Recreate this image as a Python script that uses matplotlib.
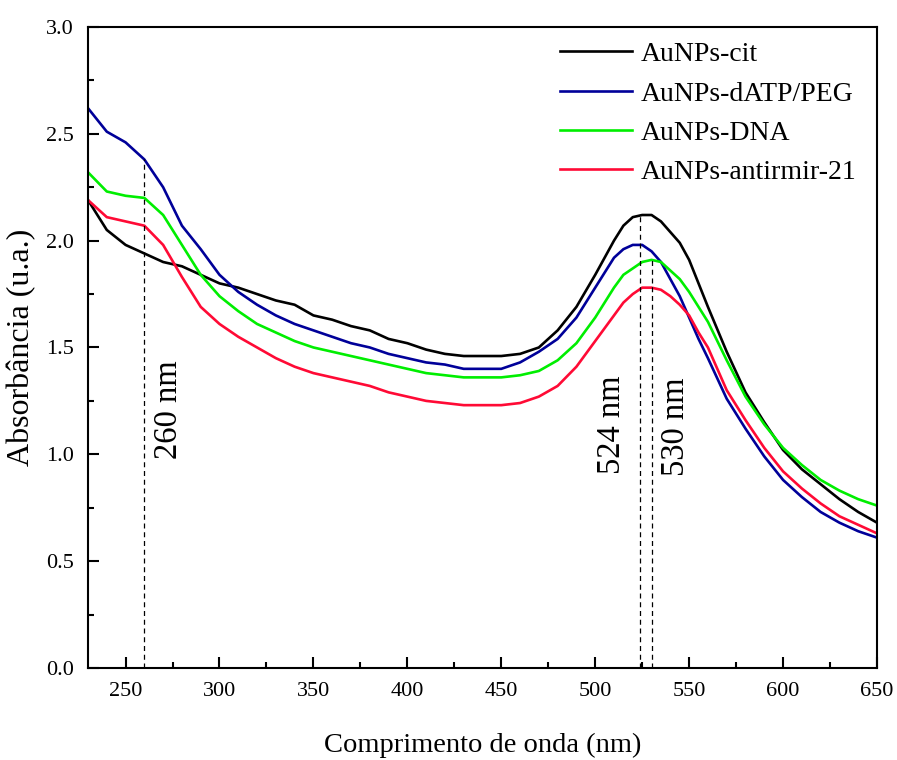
import matplotlib.pyplot as plt

plt.rcParams['font.family'] = ['Liberation Serif', 'DejaVu Serif']

# Comprimento de onda (nm)
wl = [230, 240, 250, 260, 270, 280, 290, 300, 310, 320, 330, 340, 350, 360, 370,
      380, 390, 400, 410, 420, 430, 440, 450, 460, 470, 480, 490, 500, 505, 510,
      515, 520, 525, 530, 535, 540, 545, 550, 555, 560, 570, 580, 590, 600, 610,
      620, 630, 640, 650]

cit = [2.19, 2.05, 1.98, 1.94, 1.90, 1.88, 1.84, 1.80, 1.78, 1.75, 1.72, 1.70, 1.65, 1.63, 1.60,
       1.58, 1.54, 1.52, 1.49, 1.47, 1.46, 1.46, 1.46, 1.47, 1.50, 1.58, 1.69, 1.84, 1.92, 2.00,
       2.07, 2.11, 2.12, 2.12, 2.09, 2.04, 1.99, 1.91, 1.80, 1.69, 1.48, 1.29, 1.15, 1.02, 0.93,
       0.86, 0.79, 0.73, 0.68]

datp_peg = [2.62, 2.51, 2.46, 2.38, 2.25, 2.07, 1.96, 1.84, 1.76, 1.70, 1.65, 1.61, 1.58, 1.55, 1.52,
            1.50, 1.47, 1.45, 1.43, 1.42, 1.40, 1.40, 1.40, 1.43, 1.48, 1.54, 1.64, 1.78, 1.85, 1.92,
            1.96, 1.98, 1.98, 1.95, 1.90, 1.82, 1.74, 1.64, 1.54, 1.45, 1.26, 1.12, 0.99, 0.88, 0.80,
            0.73, 0.68, 0.64, 0.61]

dna = [2.32, 2.23, 2.21, 2.20, 2.12, 1.98, 1.84, 1.74, 1.67, 1.61, 1.57, 1.53, 1.50, 1.48, 1.46,
       1.44, 1.42, 1.40, 1.38, 1.37, 1.36, 1.36, 1.36, 1.37, 1.39, 1.44, 1.52, 1.64, 1.71, 1.78,
       1.84, 1.87, 1.90, 1.91, 1.90, 1.86, 1.82, 1.76, 1.69, 1.62, 1.44, 1.27, 1.14, 1.03, 0.95,
       0.88, 0.83, 0.79, 0.76]

antimir = [2.19, 2.11, 2.09, 2.07, 1.98, 1.83, 1.69, 1.61, 1.55, 1.50, 1.45, 1.41, 1.38, 1.36, 1.34,
           1.32, 1.29, 1.27, 1.25, 1.24, 1.23, 1.23, 1.23, 1.24, 1.27, 1.32, 1.41, 1.53, 1.59, 1.65,
           1.71, 1.75, 1.78, 1.78, 1.77, 1.74, 1.70, 1.65, 1.57, 1.50, 1.30, 1.16, 1.03, 0.92, 0.84,
           0.77, 0.71, 0.67, 0.63]

labels = ['AuNPs-cit', 'AuNPs-dATP/PEG', 'AuNPs-DNA', 'AuNPs-antirmir-21']
colors = ['#000000', '#000099', '#00EE00', '#FF0A35']

# picos marcados: (posição, altura da linha, texto)
marks_x = [260, 524, 530]
marks_top = [2.38, 2.12, 1.91]
marks_text = ['260 nm', '524 nm', '530 nm']
text_pos = [(273, 1.21), (509, 1.14), (543, 1.13)]

fig = plt.figure(figsize=(8.97, 7.6), dpi=100)
ax = fig.add_axes([0.0981, 0.1211, 0.8796, 0.8434])

for y, lab, c in zip([cit, datp_peg, dna, antimir], labels, colors):
    ax.plot(wl, y, color=c, lw=1.9, label=lab)

for x, top in zip(marks_x, marks_top):
    ax.plot([x, x], [0, top], color='black', ls='--', lw=0.9, dashes=(4, 3))

for t, (tx, ty) in zip(marks_text, text_pos):
    ax.text(tx, ty, t, rotation=90, ha='center', va='center', fontsize=23.5)

ax.set_xlim(230, 650)
ax.set_ylim(0, 3.0)
ax.set_xticks([250, 300, 350, 400, 450, 500, 550, 600, 650])
ax.set_xticks([275, 325, 375, 425, 475, 525, 575, 625], minor=True)
ax.set_yticks([0, 0.5, 1.0, 1.5, 2.0, 2.5, 3.0])
ax.set_yticks([0.25, 0.75, 1.25, 1.75, 2.25, 2.75], minor=True)
ax.yaxis.set_major_formatter(plt.FormatStrFormatter('%.1f'))
ax.tick_params(which='both', direction='in', width=1.5, labelsize=16, pad=10)
ax.tick_params(which='major', length=8)
ax.tick_params(which='minor', length=4)
for s in ax.spines.values():
    s.set_linewidth(1.5)

ax.set_xlabel('Comprimento de onda (nm)', fontsize=20.5, labelpad=23)
ax.set_ylabel('Absorbância (u.a.)', fontsize=23, labelpad=7)

ax.legend(loc='upper left', bbox_to_anchor=(0.598, 0.977), frameon=False, fontsize=20,
          handlelength=2.6, handletextpad=0.3, labelspacing=0.5, borderpad=0, borderaxespad=0)

plt.savefig('out.png', dpi=100)
